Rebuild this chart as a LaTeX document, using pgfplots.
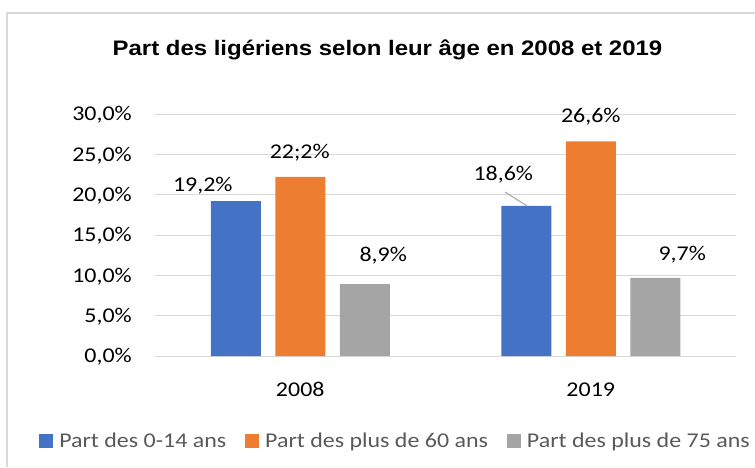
\documentclass[border=0pt]{standalone}
\usepackage{pgfplots}
\pgfplotsset{compat=1.18}
\usepackage{fontspec}
\setmainfont{Carlito}[FakeStretch=1.14]
\newfontfamily\titlefont{Liberation Sans}[FakeStretch=1.14]
\definecolor{cblue}{HTML}{4472C4}
\definecolor{corange}{HTML}{ED7D31}
\definecolor{cgray}{HTML}{A5A5A5}
\definecolor{gridgray}{HTML}{D9D9D9}
\definecolor{legtext}{HTML}{595959}
\begin{document}
\begin{tikzpicture}
\useasboundingbox (0pt,0pt) rectangle (755pt,-467pt);
\draw[gridgray, line width=2pt] (7.3pt,-467pt) -- (7.3pt,-13.3pt) -- (755pt,-13.3pt);
\node[anchor=base, inner sep=0pt, font=\titlefont\bfseries\fontsize{21}{25}\selectfont] at (387.5pt,-55pt) {Part des ligériens selon leur âge en 2008 et 2019};
\begin{axis}[
  at={(155pt,-356pt)}, anchor=south west,
  scale only axis, width=581pt, height=242pt,
  xmin=-0.5, xmax=1.5, ymin=0, ymax=30,
  ybar, bar width=50pt,
  axis line style={draw=none},
  ymajorgrids, major grid style={draw=gridgray, line width=1pt},
  ytick={0,5,...,30},
  yticklabels={{0,0\%},{5,0\%},{10,0\%},{15,0\%},{20,0\%},{25,0\%},{30,0\%}},
  xtick={0,1}, xticklabels={2008,2019},
  xtick style={draw=none}, ytick style={draw=none},
  extra x ticks={-0.5,0.5,1.5}, extra x tick labels={},
  extra x tick style={tick align=outside, major tick length=7pt, tick style={draw=gridgray, line width=1pt}, xmajorgrids=false},
  /pgf/number format/assume math mode=true,
  tick label style={font=\fontsize{21}{25}\selectfont, text=black},
  yticklabel style={anchor=base east, inner sep=0pt, xshift=-23pt, yshift=-6.7pt},
  xticklabel style={anchor=north, inner sep=0pt, yshift=-22pt},
  point meta=explicit symbolic,
  nodes near coords={\pgfplotspointmeta\%},
  nodes near coords align=center,
  every node near coord/.append style={font=\fontsize{21}{25}\selectfont, text=black, inner sep=0pt, anchor=base, xshift=\dx pt, yshift=\dy pt},
  legend columns=3,
  legend style={at={(0.414,-0.3512)}, anchor=center, draw=none, fill=none, inner sep=0pt, outer sep=0pt,
    font=\fontsize{21}{25}\selectfont, text=legtext,
    /tikz/every even column/.append style={column sep=17pt},
    /tikz/every odd column/.append style={column sep=4pt}},
  legend image code/.code={\fill[#1, draw=none] (0pt,-7pt) rectangle (14pt,7pt);},
]
\addplot[fill=cblue, draw=none, bar shift=-64.5pt,
  visualization depends on={value \thisrow{dx} \as \dx},
  visualization depends on={value \thisrow{dy} \as \dy}]
  table[x=x, y=y, meta=lab] {
x y dx dy lab
0 19.2 -33 9.4 19,2
1 18.6 -23 25 18,6
};
\addplot[fill=corange, draw=none, bar shift=0pt,
  visualization depends on={value \thisrow{dx} \as \dx},
  visualization depends on={value \thisrow{dy} \as \dy}]
  table[x=x, y=y, meta=lab] {
x y dx dy lab
0 22.2 -0.5 18.9 22;2
1 26.6 0 18.7 26,6
};
\addplot[fill=cgray, draw=none, bar shift=64.5pt,
  visualization depends on={value \thisrow{dx} \as \dx},
  visualization depends on={value \thisrow{dy} \as \dy}]
  table[x=x, y=y, meta=lab] {
x y dx dy lab
0 8.9 18.5 22.5 8,9
1 9.7 27 16.8 9,7
};
\draw[color=cgray, line width=1pt] (axis cs:0.7048,20.33) -- (axis cs:0.7806,18.6);
\legend{Part des 0-14 ans, Part des plus de 60 ans, Part des plus de 75 ans}
\end{axis}
\end{tikzpicture}
\end{document}
